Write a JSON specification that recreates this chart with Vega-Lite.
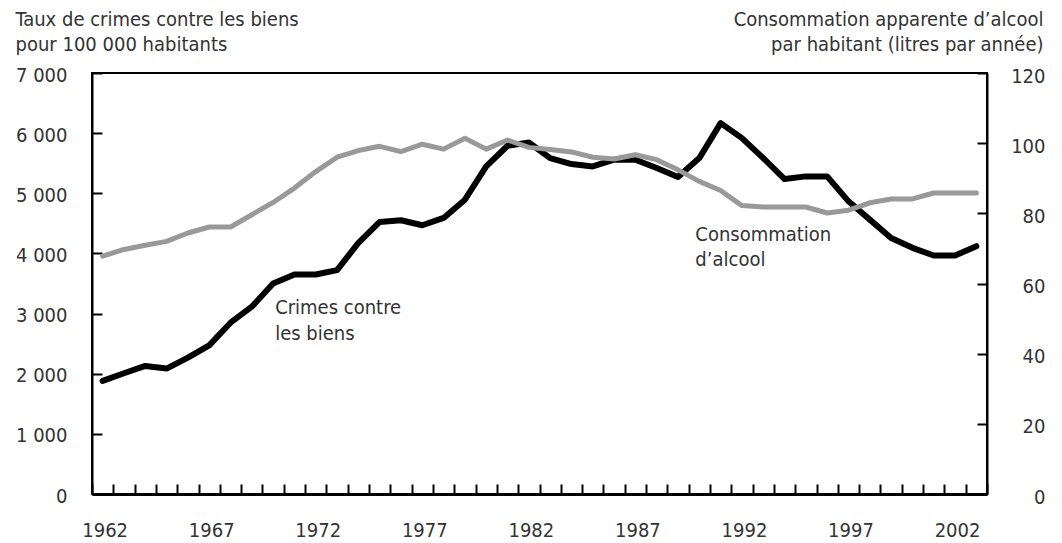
{
  "$schema": "https://vega.github.io/schema/vega-lite/v6.json",
  "width": 895,
  "height": 421,
  "autosize": {"type": "none"},
  "padding": {"left": 92, "top": 73, "right": 75, "bottom": 49},
  "background": "white",
  "config": {
    "font": "DejaVu Sans Condensed",
    "view": {"stroke": "black", "strokeWidth": 2},
    "axis": {
      "labelFont": "DejaVu Sans Condensed",
      "labelFontSize": 20,
      "labelColor": "#333333",
      "titleFont": "DejaVu Sans Condensed",
      "titleFontSize": 20,
      "titleColor": "#333333",
      "titleFontWeight": "normal",
      "grid": false,
      "domainColor": "black",
      "tickColor": "black",
      "tickWidth": 2,
      "tickRound": true
    }
  },
  "datasets": {
    "series": [
      {"year": 1962, "crime": 1880, "alcool": 67.8},
      {"year": 1963, "crime": 2007, "alcool": 69.7},
      {"year": 1964, "crime": 2129, "alcool": 70.9},
      {"year": 1965, "crime": 2085, "alcool": 72.0},
      {"year": 1966, "crime": 2268, "alcool": 74.4},
      {"year": 1967, "crime": 2472, "alcool": 76.1},
      {"year": 1968, "crime": 2848, "alcool": 76.1},
      {"year": 1969, "crime": 3114, "alcool": 79.6},
      {"year": 1970, "crime": 3500, "alcool": 83.1},
      {"year": 1971, "crime": 3650, "alcool": 87.2},
      {"year": 1972, "crime": 3650, "alcool": 91.9},
      {"year": 1973, "crime": 3722, "alcool": 96.0},
      {"year": 1974, "crime": 4175, "alcool": 97.9},
      {"year": 1975, "crime": 4524, "alcool": 99.1},
      {"year": 1976, "crime": 4551, "alcool": 97.6},
      {"year": 1977, "crime": 4468, "alcool": 99.7},
      {"year": 1978, "crime": 4590, "alcool": 98.3},
      {"year": 1979, "crime": 4894, "alcool": 101.4},
      {"year": 1980, "crime": 5447, "alcool": 98.3},
      {"year": 1981, "crime": 5790, "alcool": 100.9},
      {"year": 1982, "crime": 5845, "alcool": 98.8},
      {"year": 1983, "crime": 5585, "alcool": 98.2},
      {"year": 1984, "crime": 5486, "alcool": 97.5},
      {"year": 1985, "crime": 5447, "alcool": 96.0},
      {"year": 1986, "crime": 5558, "alcool": 95.5},
      {"year": 1987, "crime": 5558, "alcool": 96.7},
      {"year": 1988, "crime": 5420, "alcool": 95.3},
      {"year": 1989, "crime": 5270, "alcool": 92.4},
      {"year": 1990, "crime": 5585, "alcool": 89.1},
      {"year": 1991, "crime": 6166, "alcool": 86.5},
      {"year": 1992, "crime": 5917, "alcool": 82.2},
      {"year": 1993, "crime": 5585, "alcool": 81.8},
      {"year": 1994, "crime": 5237, "alcool": 81.8},
      {"year": 1995, "crime": 5281, "alcool": 81.8},
      {"year": 1996, "crime": 5281, "alcool": 80.1},
      {"year": 1997, "crime": 4866, "alcool": 80.9},
      {"year": 1998, "crime": 4562, "alcool": 83.0},
      {"year": 1999, "crime": 4258, "alcool": 84.1},
      {"year": 2000, "crime": 4093, "alcool": 84.1},
      {"year": 2001, "crime": 3965, "alcool": 85.8},
      {"year": 2002, "crime": 3965, "alcool": 85.8},
      {"year": 2003, "crime": 4120, "alcool": 85.8}
    ],
    "crimeLabel": [{"year": 1970, "value": 2986, "label": "Crimes contre\nles biens"}],
    "alcLabel": [{"year": 1990, "value": 72.0, "label": "Consommation\nd’alcool"}]
  },
  "encoding": {
    "x": {
      "field": "year",
      "type": "ordinal",
      "scale": {
        "type": "band",
        "domain": [1962, 1963, 1964, 1965, 1966, 1967, 1968, 1969, 1970, 1971, 1972, 1973, 1974, 1975, 1976, 1977, 1978, 1979, 1980, 1981, 1982, 1983, 1984, 1985, 1986, 1987, 1988, 1989, 1990, 1991, 1992, 1993, 1994, 1995, 1996, 1997, 1998, 1999, 2000, 2001, 2002, 2003],
        "paddingInner": 0,
        "paddingOuter": 0
      },
      "axis": {
        "orient": "bottom",
        "title": null,
        "ticks": true,
        "tickBand": "extent",
        "labelExpr": "datum.value % 5 == 2 ? '' + datum.value : ''",
        "labelAngle": 0,
        "labelAlign": "center",
        "labelBaseline": "top",
        "tickSize": -10,
        "domainWidth": 3,
        "labelPadding": 36,
        "labelOffset": 2,
        "labelFlush": false,
        "labelOverlap": false
      }
    }
  },
  "layer": [
    {
      "data": {"name": "series"},
      "mark": {"type": "line", "color": "black", "strokeWidth": 6, "strokeCap": "round", "strokeJoin": "round"},
      "encoding": {
        "y": {
          "field": "crime",
          "type": "quantitative",
          "scale": {"domain": [0, 7000], "nice": false},
          "axis": {
            "orient": "left",
            "values": [0, 1000, 2000, 3000, 4000, 5000, 6000, 7000],
            "labelExpr": "replace(format(datum.value, ','), ',', ' ')",
            "tickSize": -10,
            "labelPadding": 35,
            "labelOffset": 2,
            "domainWidth": 2,
            "title": ["Taux de crimes contre les biens", "pour 100 000 habitants"],
            "titleAngle": 0,
            "titleAlign": "left",
            "titleBaseline": "alphabetic",
            "titleX": -77,
            "titleY": -48,
            "titleLineHeight": 25
          }
        }
      }
    },
    {
      "data": {"name": "series"},
      "mark": {"type": "line", "color": "#999999", "strokeWidth": 5, "strokeCap": "round", "strokeJoin": "round"},
      "encoding": {
        "y": {
          "field": "alcool",
          "type": "quantitative",
          "scale": {"domain": [0, 120], "nice": false},
          "axis": {
            "orient": "right",
            "values": [0, 20, 40, 60, 80, 100, 120],
            "tickSize": -10,
            "labelAlign": "right",
            "labelPadding": 68,
            "labelOffset": 3,
            "domainWidth": 2,
            "title": ["Consommation apparente d’alcool", "par habitant (litres par année)"],
            "titleAngle": 0,
            "titleAlign": "right",
            "titleBaseline": "alphabetic",
            "titleX": 56,
            "titleY": -48,
            "titleLineHeight": 25
          }
        }
      }
    },
    {
      "data": {"name": "crimeLabel"},
      "mark": {"type": "text", "align": "left", "baseline": "alphabetic", "dx": 2, "fontSize": 20, "color": "#333333", "lineBreak": "\n", "lineHeight": 26, "font": "DejaVu Sans Condensed"},
      "encoding": {
        "y": {"field": "value", "type": "quantitative", "scale": {"domain": [0, 7000], "nice": false}, "axis": null},
        "text": {"field": "label", "type": "nominal"}
      }
    },
    {
      "data": {"name": "alcLabel"},
      "mark": {"type": "text", "align": "left", "baseline": "alphabetic", "dx": -4, "fontSize": 20, "color": "#333333", "lineBreak": "\n", "lineHeight": 25, "font": "DejaVu Sans Condensed"},
      "encoding": {
        "y": {"field": "value", "type": "quantitative", "scale": {"domain": [0, 120], "nice": false}, "axis": null},
        "text": {"field": "label", "type": "nominal"}
      }
    }
  ],
  "resolve": {"scale": {"y": "independent"}}
}
